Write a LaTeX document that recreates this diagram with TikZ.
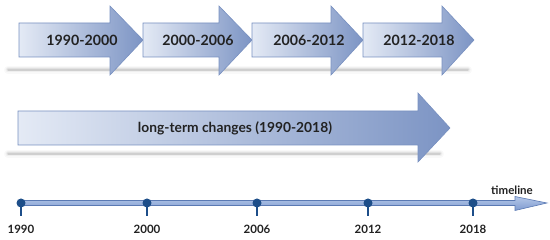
\documentclass[tikz,border=0pt]{standalone}
\usepackage{fontspec}
\setmainfont{Lato}
\definecolor{arrL}{HTML}{E4EAF5}
\definecolor{arrR}{HTML}{7C94C4}
\definecolor{arrEdge}{HTML}{7890C0}
\definecolor{tlTop}{HTML}{B4C7E8}
\definecolor{tlBot}{HTML}{7F9BD0}
\definecolor{tlEdge}{HTML}{5A79B3}
\definecolor{dotBlue}{HTML}{1D4E89}
\definecolor{txt}{HTML}{222222}
\begin{document}
\begin{tikzpicture}[x=1pt,y=-1pt,
  bigarrow/.style={draw=arrEdge,line width=0.6pt,left color=arrL,right color=arrR,line join=miter},
  shadowline/.style={line cap=round,draw=black},
  lbl/.style={font=\bfseries\fontsize{14.2}{16}\selectfont,text=txt,inner sep=0pt},
  yearlbl/.style={font=\bfseries\fontsize{11.5}{13}\selectfont,text=txt,inner sep=0pt},
  tdot/.style={circle,fill=dotBlue,inner sep=0pt,minimum size=9pt},
]
\useasboundingbox (0,0) rectangle (550,240);
% shadows
\foreach \w/\o in {8/0.025,5/0.04,3/0.06,1.5/0.08}{
  \draw[shadowline,line width=\w pt,opacity=\o] (8,70) -- (468,70);
  \draw[shadowline,line width=\w pt,opacity=\o] (8,154) -- (440,154);
}
% top arrows
\foreach \xa/\xh/\xt/\name/\t in {19/110/143/a1/1990-2000,143/219/252/a2/2000-2006,252/331/363/a3/2006-2012,363/442/474/a4/2012-2018}{
  \path[bigarrow] (\xa,23) -- (\xh,23) -- (\xh,6) -- (\xt,40)
     -- (\xh,75) -- (\xh,57) -- (\xa,57) -- cycle;
}
\node[lbl] (a1) at (82,40) {1990-2000};
\node[lbl] (a2) at (198,40) {2000-2006};
\node[lbl] (a3) at (309,40) {2006-2012};
\node[lbl] (a4) at (419,40) {2012-2018};
% long arrow
\path[bigarrow] (18,111) -- (418,111) -- (418,93) -- (450,128) -- (418,162) -- (418,145) -- (18,145) -- cycle;
\node[lbl,font=\bfseries\fontsize{13.8}{16}\selectfont] (long) at (235,128) {long-term changes (1990-2018)};
% timeline
\path[draw=tlEdge,line width=0.6pt,top color=tlTop,bottom color=tlBot]
  (20,200.5) -- (515,200.5) -- (515,196.5) -- (547,203) -- (515,210.5) -- (515,205.5) -- (20,205.5) -- cycle;
\node[yearlbl,anchor=south east] (tl) at (533,195) {timeline};
\foreach \x/\y in {21/1990,147/2000,257/2006,368/2012,473/2018}{
  \node[tdot] (d\y) at (\x,203) {};
  \coordinate (t\y) at (\x,216);
  \draw[dotBlue,line width=1.6pt] (d\y.center) -- (t\y);
  \node[yearlbl] (y\y) at (\x,229) {\y};
}
\end{tikzpicture}
\end{document}
